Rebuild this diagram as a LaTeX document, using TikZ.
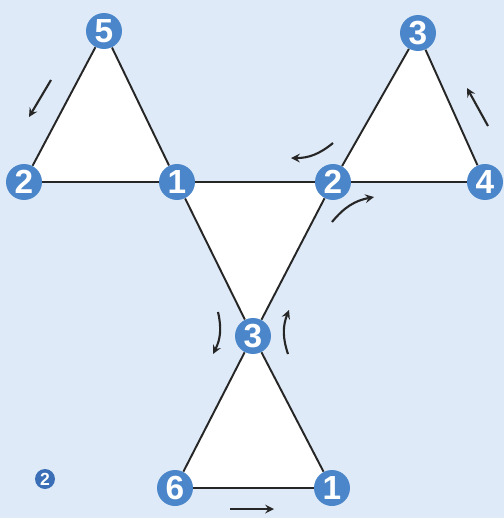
\documentclass[tikz,border=0pt]{standalone}
\usepackage{fontspec}
\setsansfont{Liberation Sans}
\definecolor{paper}{RGB}{222,234,247}
\definecolor{dotblue}{RGB}{74,134,201}
\definecolor{pageblue}{RGB}{58,110,182}
\begin{document}
\begin{tikzpicture}[x=0.02cm, y=-0.02cm, >=stealth,
    dot/.style={circle, fill=dotblue, text=white,
                font=\sffamily\bfseries\fontsize{19}{19}\selectfont,
                inner sep=0pt, minimum size=0.72cm},
    edge/.style={black!85, line width=1.1pt},
    hint/.style={->, black!85, line width=1.2pt}]
% Background
\fill[paper] (0,0) rectangle (504,518);
\useasboundingbox (0,0) rectangle (504,518);

% Vertices
\coordinate (p5) at (104,31);
\coordinate (p2l) at (24,182);
\coordinate (p1) at (177,182);
\coordinate (p2r) at (333,182);
\coordinate (p3t) at (418,33);
\coordinate (p4) at (485,182);
\coordinate (p3m) at (253,336);
\coordinate (p6) at (175,488);
\coordinate (p1b) at (332,488);

% Fill triangles
\fill[white] (p5) -- (p2l) -- (p1) -- cycle;
\fill[white] (p3t) -- (p2r) -- (p4) -- cycle;
\fill[white] (p1) -- (p2r) -- (p3m) -- cycle;
\fill[white] (p3m) -- (p6) -- (p1b) -- cycle;

% Nodes
\node[dot] (n5) at (p5) {5};
\node[dot] (n2l) at (p2l) {2};
\node[dot] (n1) at (p1) {1};
\node[dot] (n2r) at (p2r) {2};
\node[dot] (n3t) at (p3t) {3};
\node[dot] (n4) at (p4) {4};
\node[dot] (n3m) at (p3m) {3};
\node[dot] (n6) at (p6) {6};
\node[dot] (n1b) at (p1b) {1};

% Edges
\draw[edge] (n5) -- (n2l);
\draw[edge] (n5) -- (n1);
\draw[edge] (n2l) -- (n1);
\draw[edge] (n1) -- (n2r);
\draw[edge] (n3t) -- (n2r);
\draw[edge] (n3t) -- (n4);
\draw[edge] (n2r) -- (n4);
\draw[edge] (n1) -- (n3m);
\draw[edge] (n2r) -- (n3m);
\draw[edge] (n3m) -- (n6);
\draw[edge] (n3m) -- (n1b);
\draw[edge] (n6) -- (n1b);

% Direction arrows
\draw[hint] (51,80) -- (29,117);
\draw[hint] (488,126) -- (467,88);
\draw[hint] (333,143) to[bend left=20] (291,158);
\draw[hint] (332,222) to[bend left=20] (374,197);
\draw[hint] (218,312) to[bend left=20] (213,354);
\draw[hint] (288,354) to[bend left=20] (289,310);
\draw[hint] (230,509) -- (274,509);

% Page number
\node[dot, minimum size=0.4cm, fill=pageblue,
      font=\sffamily\bfseries\fontsize{10}{10}\selectfont] (pg) at (45,479) {2};
\end{tikzpicture}
\end{document}
